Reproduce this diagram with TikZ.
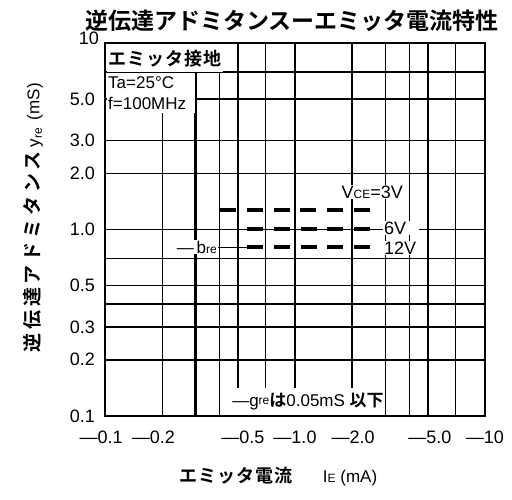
\documentclass[tikz,border=0pt]{standalone}
\usepackage{fontspec}
\setmainfont{Liberation Sans}
\newfontfamily\jpfont{Noto Sans CJK JP Bold}
\newfontfamily\jpwide[LetterSpace=6]{Noto Sans CJK JP Bold}
\newfontfamily\jpwider[LetterSpace=20]{Noto Sans CJK JP Bold}
\newcommand{\sm}[1]{{\fontsize{12}{12}\selectfont #1}}
\usetikzlibrary{positioning}

\begin{document}
\begin{tikzpicture}[x=1pt,y=1pt]
\tikzset{
  gridline/.style={black,line width=1.6pt},
  gridmajor/.style={black,line width=2.4pt},
  frameline/.style={black,line width=2.6pt},
  vdash/.style={black,line width=3.2pt,dash pattern=on 16pt off 10.8pt},
  leader/.style={black,line width=1pt},
  lab/.style={inner sep=1pt,font=\fontsize{18}{18}\selectfont},
  mask/.style={fill=white,inner sep=1pt}
}
\useasboundingbox (0,0) rectangle (512,-499);
% grid
\foreach \v in {0.2,0.4,0.5,0.7,2,3,4,5,7}
  \draw[gridline] ({105+190*(log10(\v)+1)},-43) -- ({105+190*(log10(\v)+1)},-416);
\foreach \v in {0.3,1}
  \draw[gridmajor] ({105+190*(log10(\v)+1)},-43) -- ({105+190*(log10(\v)+1)},-416);
\foreach \v in {0.2,0.3,0.4,0.5,0.7,1,2,3,5,7}
  \draw[gridline] (105,{-416+186.5*(log10(\v)+1)}) -- (485,{-416+186.5*(log10(\v)+1)});
% axis numbers
\foreach \v/\t [count=\i] in {0.1/0.1,0.2/0.2,0.3/0.3,0.5/0.5,1/1.0,2/2.0,3/3.0,5/5.0}
  \node[lab,anchor=east] (ytick\i) at (96,{-416+186.5*(log10(\v)+1)}) {\t};
\node[lab,anchor=east] (ytick9) at (100,-38) {10};
\foreach \v/\t/\dx [count=\i] in {0.1/—0.1/-4,0.2/—0.2/-9,0.5/—0.5/5,1/—1.0/0,2/—2.0/1,5/—5.0/2,10/—10/0}
  \node[lab] (xtick\i) at ({105+190*(log10(\v)+1)+\dx},-437) {\t};
% titles
\node[font=\fontsize{23}{23}\jpfont] (title) at (292,-21) {逆伝達アドミタンスーエミッタ電流特性};
\node[rotate=90,anchor=west,font=\fontsize{17}{17}\selectfont] (ytitle) at (33,-356)
  {{\fontsize{19}{19}\jpwider 逆伝達アドミタンス}\hspace{4pt}y\textsubscript{re}\hspace{3pt} (mS)};
\node[anchor=west,font=\fontsize{17}{17}\selectfont] (xtitle) at (176,-477)
  {{\fontsize{18}{18}\jpwide エミッタ電流}\hspace{30pt}I\sm{E} (mA)};
% conditions
\node[mask,anchor=north west,minimum height=28pt,font=\fontsize{18}{18}\jpwide] (info1) at (107,-44) {エミッタ接地};
\node[mask,anchor=north west,text width=86pt,minimum height=20pt,font=\fontsize{17}{17}\selectfont] (info2) at (info1.south west) {Ta=25°C};
\node[mask,anchor=north west,text width=86pt,minimum height=20pt,font=\fontsize{17}{17}\selectfont] (info3) at (info2.south west) {f=100MHz};
% curves
\coordinate (d3s) at (220,-210);
\coordinate (d3e) at (371,-210);
\coordinate (d6s) at (247,-229);
\coordinate (d6e) at (371,-229);
\coordinate (d12s) at (247,-247);
\coordinate (d12e) at (371,-247);
\draw[vdash] (d3s) -- (d3e);
\draw[vdash] (d6s) -- (d6e);
\draw[vdash] (d12s) -- (d12e);
\node[lab,mask,anchor=east] (vce3) at (404,-192) {V\sm{CE}=3V};
\node[lab,mask,anchor=west,text width=34pt] (vce6) at (383,-228) {6V};
\node[lab,mask,anchor=west] (vce12) at (383,-248) {12V};
\node[mask,anchor=east,font=\fontsize{17}{17}\selectfont] (bre) at (218,-247) {—\,b\sm{re}};
\draw[leader] (bre.east) -- (d12s);
\node[mask,anchor=south,minimum height=28pt,font=\fontsize{17}{17}\selectfont] (gre) at (308,-416)
  {—g\raisebox{2pt}{\sm{re}}{\jpfont は}0.05mS {\jpfont 以下}};
% frame
\draw[frameline] (105,-43) rectangle (485,-416);
\end{tikzpicture}
\end{document}
